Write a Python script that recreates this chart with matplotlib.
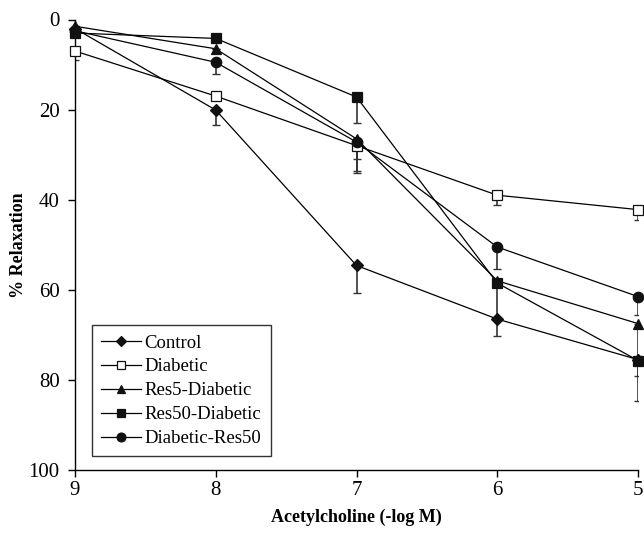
import matplotlib
matplotlib.use("Agg")
import matplotlib.pyplot as plt
import numpy as np

plt.rcParams['font.family'] = ['Liberation Serif', 'DejaVu Serif']

x = [9, 8, 7, 6, 5]
series_names = ["Control", "Diabetic", "Res5-Diabetic", "Res50-Diabetic", "Diabetic-Res50"]
control = [2.0, 20.1, 54.6, 66.5, 75.5]
control_err = [0.0, 3.3, 6.2, 3.8, 3.7]
diabetic = [7.0, 17.0, 28.0, 39.0, 42.2]
diabetic_err = [2.0, 0.0, 6.0, 2.2, 2.4]
res5 = [1.5, 6.5, 26.5, 58.0, 67.5]
res5_err = [0.0, 0.0, 4.5, 0.0, 8.0]
res50 = [3.0, 4.2, 17.2, 58.5, 75.7]
res50_err = [0.0, 0.0, 5.8, 8.0, 9.0]
diabres50 = [2.5, 9.5, 27.2, 50.5, 61.5]
diabres50_err = [0.0, 2.6, 6.5, 4.9, 4.1]

values = [control, diabetic, res5, res50, diabres50]
errors = [control_err, diabetic_err, res5_err, res50_err, diabres50_err]
markers = ['D', 's', '^', 's', 'o']
facecolors = ['#111111', 'white', '#111111', '#111111', '#111111']
sizes = [6.5, 7, 7.5, 7, 7.5]

fig = plt.figure(figsize=(6.44, 5.37), dpi=100)
ax = fig.add_axes([75/644, 1-470/537, (638-75)/644, (470-19.5)/537])

for name, v, e, m, fc, ms in zip(series_names, values, errors, markers, facecolors, sizes):
    ax.errorbar(x, v, yerr=[np.zeros(len(e)), e], fmt='none', ecolor='#333333',
                elinewidth=1.2, capsize=3, capthick=1.0, zorder=2)
    ax.plot(x, v, color='black', linewidth=0.9, marker=m, markersize=ms,
            markerfacecolor=fc, markeredgecolor='#111111', markeredgewidth=0.9,
            label=name, zorder=3, clip_on=False)

ax.set_xlim(9, 5)
ax.set_ylim(100, 0)
ax.set_xticks([9, 8, 7, 6, 5])
ax.set_yticks([0, 20, 40, 60, 80, 100])
for s in ['top', 'right']:
    ax.spines[s].set_visible(False)
for s in ['left', 'bottom']:
    ax.spines[s].set_linewidth(1.0)
ax.tick_params(axis='both', direction='out', length=5, width=1.0, labelsize=15)
ax.tick_params(axis='x', pad=3)
ax.tick_params(axis='y', pad=6)

ax.set_xlabel("Acetylcholine (-log M)", fontsize=13, fontweight='bold', labelpad=6)
ax.set_ylabel("% Relaxation", fontsize=13, fontweight='bold', labelpad=1)

leg = ax.legend(loc='lower left', bbox_to_anchor=(0.03, 0.03), borderaxespad=0,
                fontsize=13.5, frameon=True, fancybox=False, edgecolor='black',
                handlelength=2.1, handletextpad=0.2, labelspacing=0.36,
                borderpad=0.5, markerscale=0.85)
leg.get_frame().set_linewidth(1.0)

fig.savefig("out.png", dpi=100)
